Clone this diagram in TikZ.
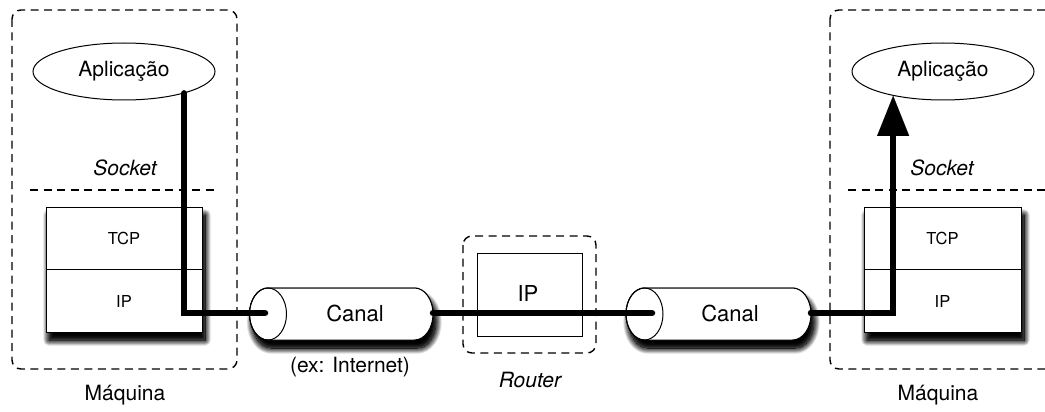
\documentclass[tikz,border=0pt]{standalone}
\usepackage{fontspec}
\setmainfont{TeX Gyre Heros}
\usetikzlibrary{shapes.geometric,arrows.meta,shadows.blur}

\tikzset{
  big/.style={font=\fontsize{21}{24}\selectfont},
  bigit/.style={font=\fontsize{21}{24}\selectfont\itshape},
  small/.style={font=\fontsize{16.5}{19}\selectfont},
  zone/.style={draw, dash pattern=on 8pt off 5.5pt, line width=1.4pt, rounded corners=9pt},
  sockline/.style={draw, dash pattern=on 8pt off 5.5pt, line width=1.4pt},
  app/.style={ellipse, draw, line width=1pt, fill=white, minimum width=182pt, minimum height=57pt, inner sep=0pt, big},
  layer/.style={draw, line width=1pt, fill=white, minimum width=156pt, minimum height=62.5pt, inner sep=0pt, small},
  shade/.style={blur shadow={shadow xshift=3pt, shadow yshift=-8pt, shadow blur radius=6pt, shadow blur steps=14, shadow opacity=100}},
  tube/.style={draw, line width=1pt, fill=white},
  flow/.style={line width=6.5pt, line cap=round, line join=miter, draw=black},
}

\begin{document}
\begin{tikzpicture}[x=1pt, y=-1pt]
\useasboundingbox (0,0) rectangle (1045,412);
\clip (0,0) rectangle (1045,412);

% host zones
\draw[zone] (12,10) rectangle (237,369);
\draw[zone] (830,10) rectangle (1075,369);

% socket boundaries
\draw[sockline] (30,190) -- (215,190);
\draw[sockline] (848,190) -- (1045,190);
\node[bigit] (sock1) at (125,168) {Socket};
\node[bigit] (sock2) at (942,168) {Socket};

% applications
\node[app] (app1) at (124,71.5) {Aplicação};
\node[app] (app2) at (943,71.5) {Aplicação};

% protocol stacks
\path[shade, fill=white] (46,207) rectangle (202,332);
\path[shade, fill=white] (46,207) rectangle (202,332);
\node[layer] (tcp1) at (124,238.5) {TCP};
\node[layer] (ip1) at (124,301) {IP};
\path[shade, fill=white] (864,207) rectangle (1021,332);
\path[shade, fill=white] (864,207) rectangle (1021,332);
\node[layer, minimum width=157pt] (tcp2) at (942.5,238.5) {TCP};
\node[layer, minimum width=157pt] (ip2) at (942.5,301) {IP};

% channels
\foreach \k in {1,2}{
\path[tube, shade] (268,288) -- (414.5,288)
  arc[start angle=90, end angle=-90, x radius=18.5pt, y radius=26pt]
  -- (268,340)
  arc[start angle=270, end angle=90, x radius=18.5pt, y radius=26pt] -- cycle;
\path[tube, shade] (644.5,288) -- (792.5,288)
  arc[start angle=90, end angle=-90, x radius=18.5pt, y radius=26pt]
  -- (644.5,340)
  arc[start angle=270, end angle=90, x radius=18.5pt, y radius=26pt] -- cycle;
}
\draw[line width=1pt] (268,314) ellipse [x radius=18.5pt, y radius=26pt];
\node[big, font=\fontsize{22}{24}\selectfont] (canal1) at (355,313) {Canal};
\coordinate (c1in) at (265,313);
\coordinate (c1out) at (433,313);

\draw[line width=1pt] (644.5,314) ellipse [x radius=18.5pt, y radius=26pt];
\node[big, font=\fontsize{22}{24}\selectfont] (canal2) at (730,313) {Canal};
\coordinate (c2in) at (652,313);
\coordinate (c2out) at (811,313);

\node[big] (inet) at (350,367) {(ex: Internet)};

% router
\draw[zone] (463,236) rectangle (596,353);
\node[draw, line width=1pt, fill=white, minimum width=105pt, minimum height=83pt, inner sep=0pt] (rip) at (529.5,294.5) {};
\node[big, font=\fontsize{22}{24}\selectfont] (riplabel) at (528,293) {IP};
\node[bigit] (router) at (530,380) {Router};

% hosts
\node[big] (host1) at (125,395) {Máquina};
\node[big] (host2) at (938,395) {Máquina};

% data path
\draw[flow] (app1.-20) |- (c1in);
\draw[flow] (c1out) -- (c2in);
\draw[flow, line cap=butt, -{Triangle[length=40pt, width=32pt, line width=0.1pt, color=black, fill=black]}] (c2out) -| (app2.-154);
\fill[black] (c2out) circle (3.25pt);
\end{tikzpicture}
\end{document}
